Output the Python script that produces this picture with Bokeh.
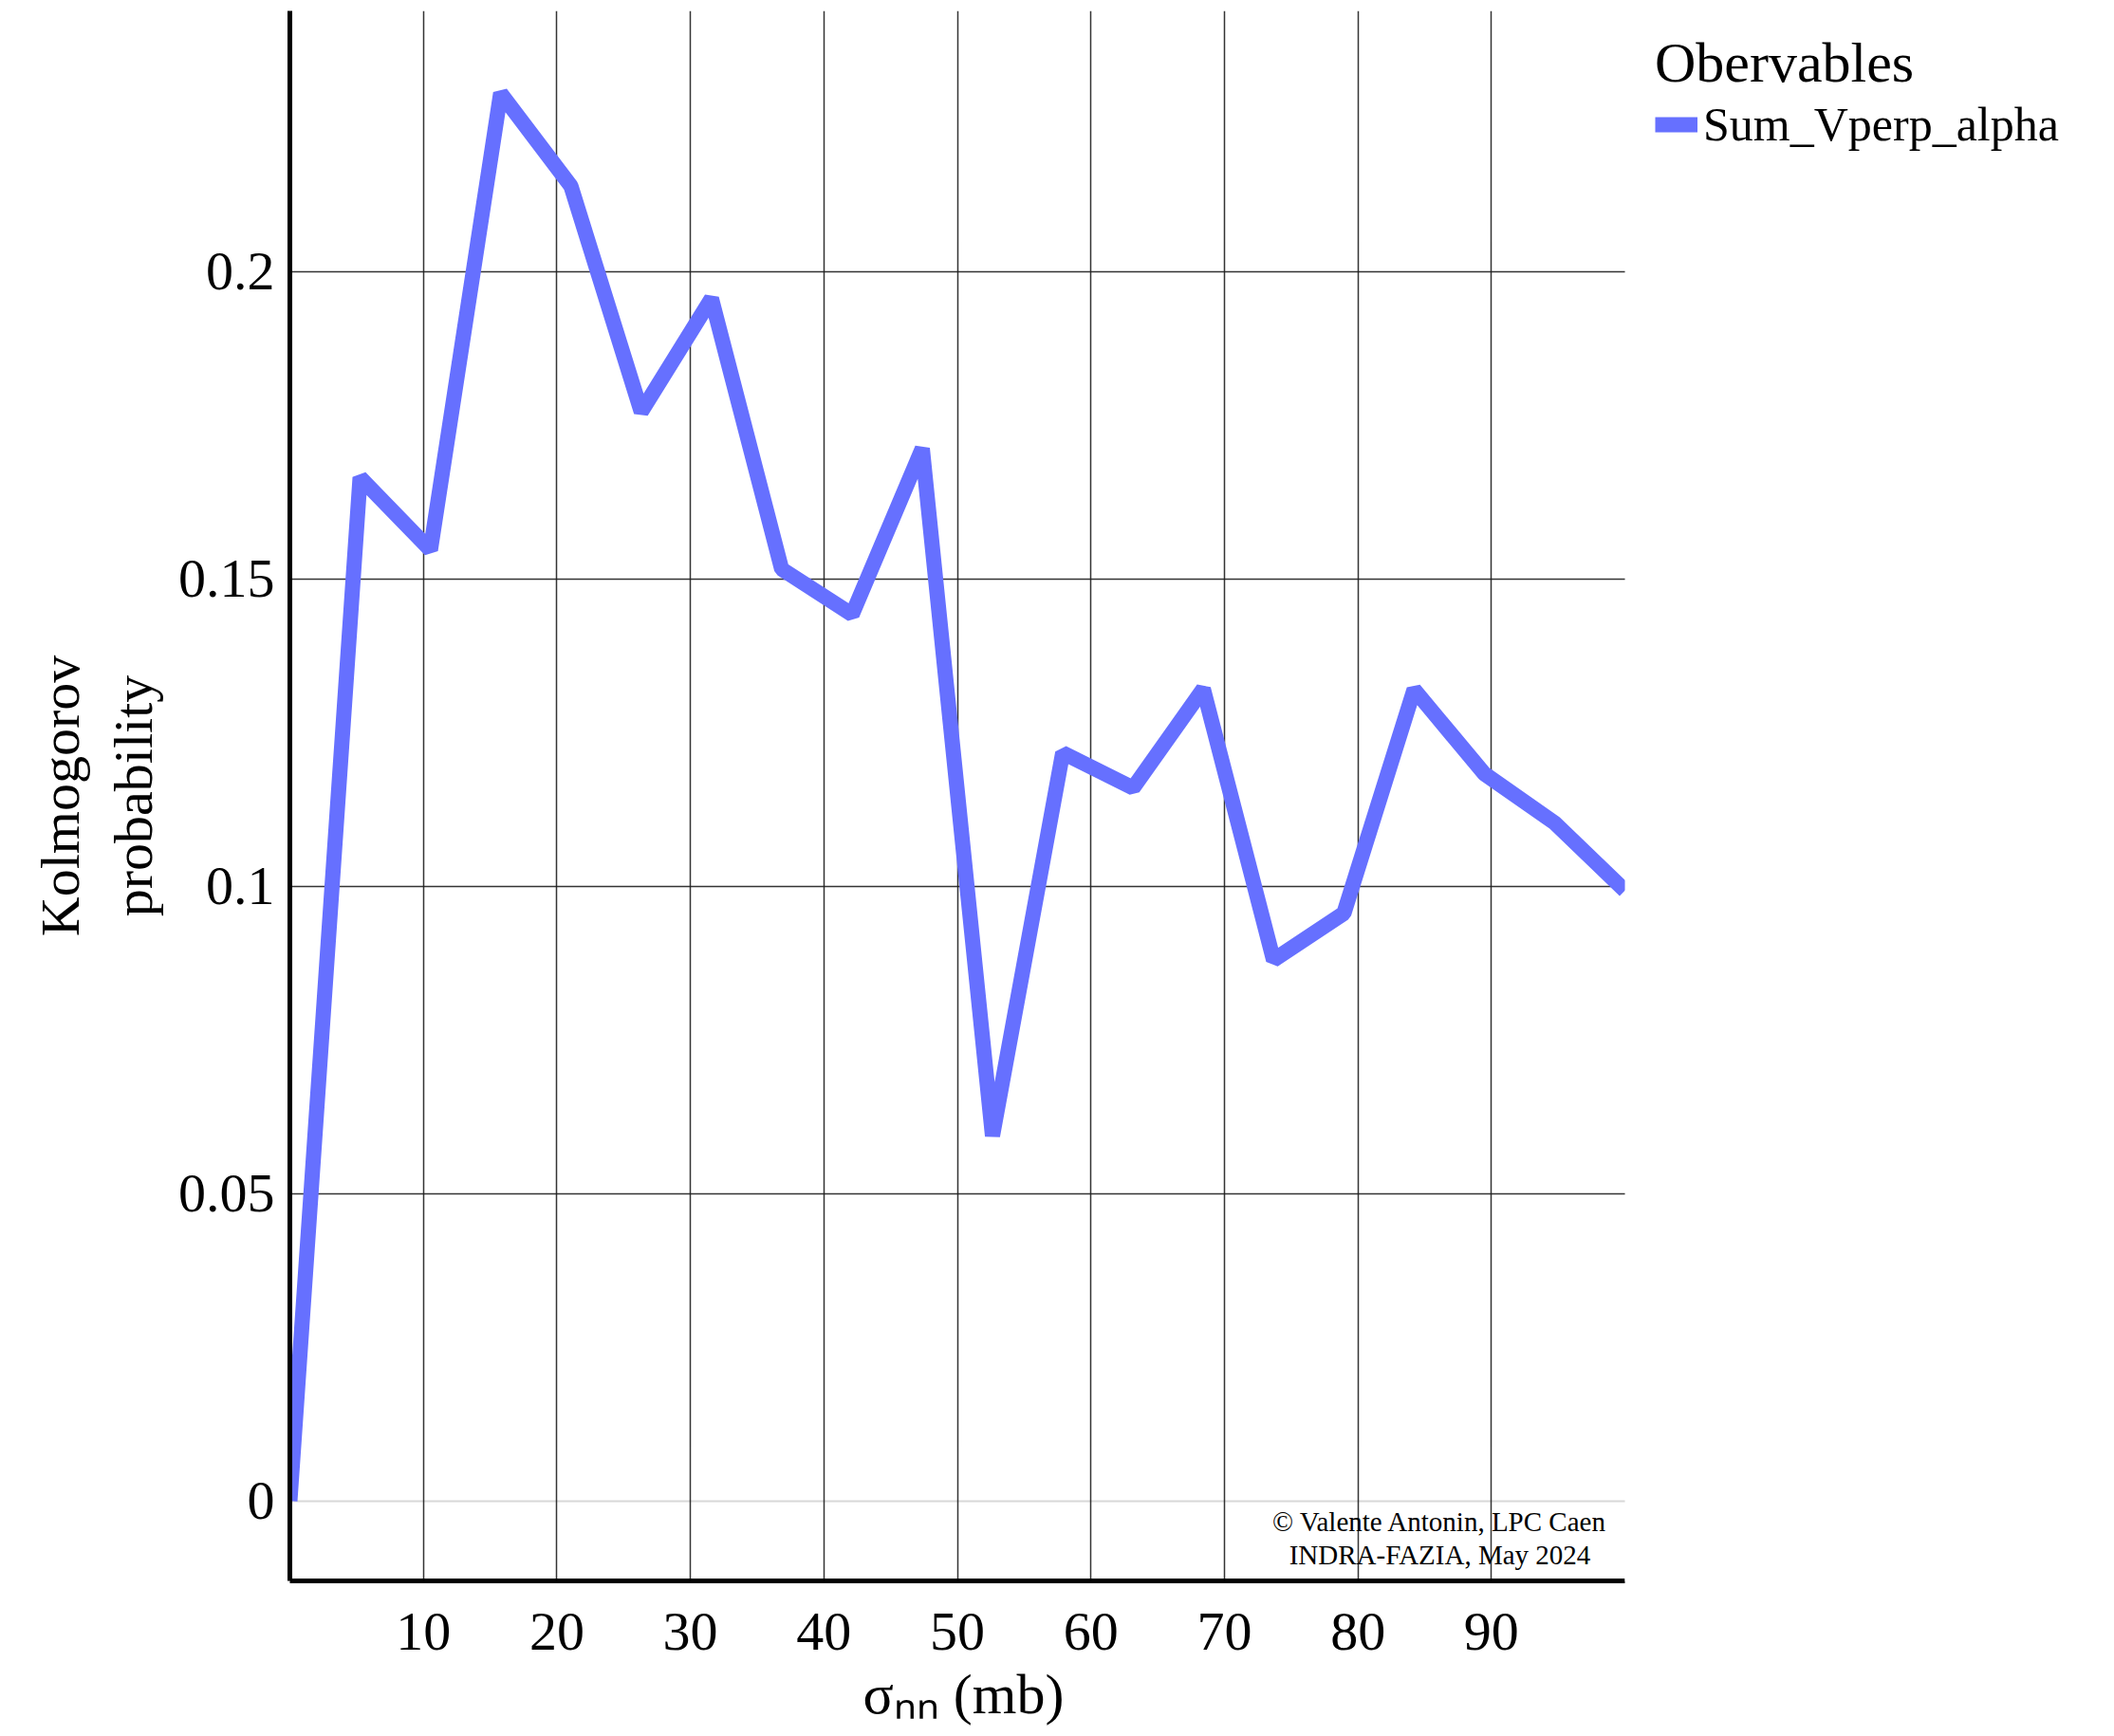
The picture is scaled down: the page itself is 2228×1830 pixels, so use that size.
from bokeh.plotting import figure
from bokeh.models import (Range1d, FixedTicker, CustomJSTickFormatter, Legend,
                          LegendItem, Label, Grid, BoxAnnotation, Title)
from bokeh.embed import file_html
from bokeh.resources import INLINE

# Kolmogorov test probability versus nucleon-nucleon cross section
sigma_nn = [0.0, 5.26, 10.53, 15.79, 21.05, 26.32, 31.58, 36.84, 42.11, 47.37,
            52.63, 57.89, 63.16, 68.42, 73.68, 78.95, 84.21, 89.47, 94.74, 100.0]
kolmogorov_prob = [0.0, 0.1665, 0.1547, 0.2290, 0.2139, 0.1772, 0.1956, 0.1516,
                   0.1442, 0.1712, 0.0594, 0.1217, 0.1160, 0.1321, 0.0880, 0.0956,
                   0.1320, 0.1183, 0.1103, 0.0993]

series_name = "Sum_Vperp_alpha"
legend_title = "Obervables"
x_title = "\u03c3\u2099\u2099 (mb)"
y_title = "Kolmogorov\nprobability"
x_ticks = [10, 20, 30, 40, 50, 60, 70, 80, 90]
y_ticks = [0, 0.05, 0.1, 0.15, 0.2]
y_tick_labels = ["0", "0.05", "0.1", "0.15", "0.2"]
credit_lines = ["\u00a9 Valente Antonin, LPC Caen", "INDRA-FAZIA, May 2024"]

SERIF = "Liberation Serif"
LINE_BLUE = "#6670ff"
X_MAX = 100.0          # end of the plotted sigma axis
X_VIEW_END = 136.67    # frame continues to the right to host the legend

p = figure(width=2228, height=1830, output_backend="svg", toolbar_location=None,
           x_range=Range1d(0, X_VIEW_END), y_range=Range1d(-0.013, 0.2424),
           min_border_left=305, min_border_right=0,
           min_border_top=11, min_border_bottom=164)
p.outline_line_color = None
p.background_fill_color = "white"

# axes: heavy black lines, no tick marks
for ax in (p.xaxis, p.yaxis):
    ax.axis_line_width = 5
    ax.axis_line_color = "black"
    ax.major_tick_out = 0
    ax.major_tick_in = 0
    ax.minor_tick_out = 0
    ax.minor_tick_in = 0
    ax.major_label_text_font = SERIF
    ax.major_label_text_font_size = "58px"
    ax.major_label_text_color = "black"
    ax.axis_label_text_font = SERIF
    ax.axis_label_text_font_style = "normal"
    ax.axis_label_text_color = "black"

p.xaxis.bounds = (0, X_MAX)
p.xaxis.ticker = FixedTicker(ticks=x_ticks)
p.xaxis.major_label_standoff = 34

p.yaxis.ticker = FixedTicker(ticks=y_ticks)
p.yaxis.major_label_standoff = 16
p.yaxis.formatter = CustomJSTickFormatter(
    args=dict(tick_values=y_ticks, tick_texts=y_tick_labels),
    code="""
    for (let i = 0; i < tick_values.length; i++) {
        if (Math.abs(tick_values[i] - tick) < 1e-9) return tick_texts[i];
    }
    return '';
    """)
p.yaxis.axis_label = y_title
p.yaxis.axis_label_text_font_size = "58px"
p.yaxis.axis_label_text_line_height = 1.18
p.yaxis.axis_label_standoff = 12

# x title sits under the sigma axis only, so it is placed from the left edge
p.add_layout(Title(text=x_title, align="left", offset=604, standoff=19,
                   text_font=SERIF, text_font_size="60px",
                   text_font_style="normal", text_color="black"), "below")

# grid
grid_style = dict(grid_line_color="#1e1e1e", grid_line_width=1.5, grid_line_alpha=0.9)
p.xgrid.ticker = FixedTicker(ticks=x_ticks)
p.ygrid.ticker = FixedTicker(ticks=y_ticks[1:])
for g in (p.xgrid, p.ygrid):
    for k, v in grid_style.items():
        setattr(g, k, v)
zero_grid = Grid(dimension=1, ticker=FixedTicker(ticks=[0]),
                 grid_line_color="#d8d8d8", grid_line_width=2)
p.center = [zero_grid] + list(p.center)

r = p.line(sigma_nn, kolmogorov_prob, line_color=LINE_BLUE, line_width=16)

# blank out everything past the end of the sigma axis
p.add_layout(BoxAnnotation(left=X_MAX, right=X_VIEW_END + 50, bottom=-1, top=1,
                           fill_color="white", fill_alpha=1, line_color=None))

# credit lines in the lower right corner of the plotting area
for txt, ys in zip(credit_lines, (63, 28)):
    p.add_layout(Label(x=1212, y=ys, x_units="screen", y_units="screen", text=txt,
                       text_align="center", text_baseline="alphabetic",
                       text_font=SERIF, text_font_size="29px", text_color="black"))

legend = Legend(items=[LegendItem(label=series_name, renderers=[r])],
                title=legend_title, location="top_right",
                margin=21, padding=14, spacing=0,
                glyph_width=45, glyph_height=40, label_height=40, label_width=412,
                label_standoff=6, title_standoff=1,
                border_line_color=None, background_fill_alpha=0,
                label_text_font=SERIF, label_text_font_size="50px",
                label_text_color="black",
                title_text_font=SERIF, title_text_font_size="60px",
                title_text_font_style="normal", title_text_color="black")
p.add_layout(legend)

open("out.html", "w").write(file_html(p, INLINE))
